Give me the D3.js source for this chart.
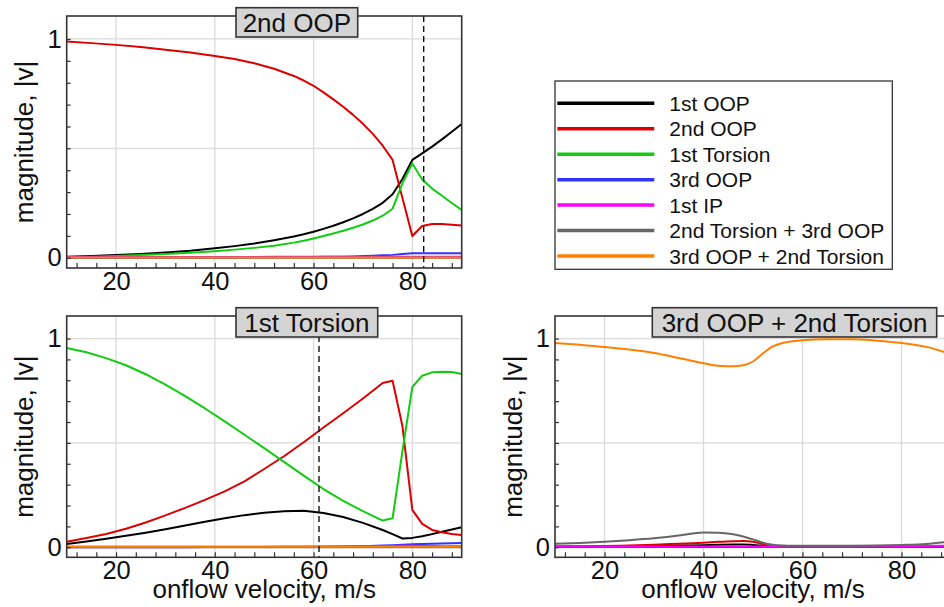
<!DOCTYPE html>
<html>
<head>
<meta charset="utf-8">
<script src="https://cdn.jsdelivr.net/npm/d3@7"></script>
<style>
  html, body { margin: 0; padding: 0; background: #fff; }
  svg { display: block; font-family: "Liberation Sans", Arial, Helvetica, sans-serif; }
</style>
</head>
<body>
<svg id="chart" width="944" height="607"></svg>
<script>
// Mode names and their line colours (legend order = drawing order)
const modeNames = ["1st OOP", "2nd OOP", "1st Torsion", "3rd OOP", "1st IP",
                   "2nd Torsion + 3rd OOP", "3rd OOP + 2nd Torsion"];
const modeColors = ["#000000", "#dd0000", "#11cc11", "#3333ff", "#ff00ff", "#666666", "#ff8000"];

// Axis ticks
const xLabelTicks = [20, 40, 60, 80];
const xGridTicks = [20, 40, 60, 80];
const xMinorTicks = d3.range(12, 90, 4);
const yLabelTicks = [0, 1];
const yGridTicks = [0, 0.5, 1];
const yMinorTicks = d3.range(0, 11).map(i => i / 10);

// ---- Panel "2nd OOP": eigenvector magnitudes vs onflow velocity ----
const velocityA = [10, 15, 20, 25, 30, 35, 40, 44, 48, 52, 56, 58, 60, 62, 64, 66, 68, 70, 72, 74, 76, 78, 80, 82, 84, 86, 88, 90];
const oop1A = [0.005, 0.008, 0.012, 0.017, 0.024, 0.032, 0.043, 0.053, 0.065, 0.080, 0.097, 0.107, 0.119, 0.132, 0.146, 0.162, 0.180, 0.200, 0.223, 0.251, 0.290, 0.360, 0.447, 0.477, 0.508, 0.541, 0.576, 0.611];
const oop2A = [0.988, 0.981, 0.973, 0.963, 0.951, 0.938, 0.922, 0.908, 0.889, 0.864, 0.831, 0.810, 0.786, 0.756, 0.724, 0.690, 0.653, 0.612, 0.566, 0.512, 0.447, 0.273, 0.099, 0.145, 0.154, 0.154, 0.151, 0.147];
const tor1A = [0.002, 0.005, 0.008, 0.012, 0.017, 0.023, 0.030, 0.037, 0.045, 0.055, 0.069, 0.078, 0.088, 0.099, 0.111, 0.123, 0.137, 0.152, 0.170, 0.192, 0.224, 0.340, 0.431, 0.358, 0.316, 0.283, 0.250, 0.218];
const oop3A = [0, 0, 0, 0, 0.001, 0.001, 0.001, 0.001, 0.002, 0.002, 0.003, 0.003, 0.003, 0.004, 0.004, 0.005, 0.006, 0.008, 0.009, 0.011, 0.013, 0.017, 0.020, 0.021, 0.021, 0.021, 0.021, 0.021];
const ip1A = [0.003, 0.003, 0.003, 0.003, 0.003, 0.003, 0.003, 0.003, 0.003, 0.004, 0.004, 0.004, 0.004, 0.004, 0.004, 0.005, 0.005, 0.005, 0.005, 0.005, 0.005, 0.005, 0.005, 0.005, 0.005, 0.005, 0.005, 0.005];
const tor2oop3A = [0, 0, 0, 0, 0, 0, 0, 0, 0, 0, 0, 0, 0, 0, 0, 0, 0, 0, 0, 0, 0, 0, 0, 0, 0, 0, 0, 0];
const oop3tor2A = [0.001, 0.001, 0.001, 0.001, 0.001, 0.001, 0.001, 0.001, 0.001, 0.001, 0.001, 0.001, 0.001, 0.001, 0.001, 0.001, 0.001, 0.001, 0.001, 0.001, 0.001, 0.001, 0.001, 0.001, 0.001, 0.001, 0.001, 0.001];
const markerA = 82.3;

// ---- Panel "1st Torsion" ----
const velocityB = [10, 14, 18, 22, 26, 30, 34, 38, 42, 46, 50, 54, 58, 62, 66, 70, 74, 76, 78, 80, 82, 84, 86, 88, 90];
const oop1B = [0.016, 0.028, 0.041, 0.055, 0.070, 0.086, 0.104, 0.122, 0.139, 0.154, 0.165, 0.173, 0.175, 0.164, 0.145, 0.117, 0.083, 0.063, 0.042, 0.045, 0.053, 0.063, 0.074, 0.085, 0.096];
const oop2B = [0.027, 0.044, 0.064, 0.089, 0.119, 0.153, 0.189, 0.227, 0.268, 0.316, 0.375, 0.436, 0.503, 0.574, 0.642, 0.713, 0.787, 0.798, 0.580, 0.179, 0.112, 0.083, 0.072, 0.064, 0.059];
const tor1B = [0.955, 0.934, 0.906, 0.872, 0.829, 0.779, 0.724, 0.665, 0.603, 0.539, 0.475, 0.409, 0.343, 0.279, 0.222, 0.173, 0.128, 0.139, 0.460, 0.768, 0.822, 0.838, 0.841, 0.840, 0.830];
const oop3B = [0, 0, 0, 0, 0, 0, 0, 0.001, 0.001, 0.001, 0.001, 0.002, 0.002, 0.003, 0.004, 0.005, 0.008, 0.010, 0.012, 0.014, 0.016, 0.017, 0.018, 0.019, 0.020];
const ip1B = [0.003, 0.003, 0.003, 0.003, 0.003, 0.003, 0.003, 0.003, 0.003, 0.003, 0.003, 0.003, 0.003, 0.004, 0.004, 0.005, 0.006, 0.006, 0.007, 0.007, 0.006, 0.006, 0.005, 0.005, 0.005];
const tor2oop3B = [0, 0, 0, 0, 0, 0, 0, 0, 0, 0, 0, 0, 0, 0, 0, 0, 0, 0, 0, 0, 0, 0, 0, 0, 0];
const oop3tor2B = [0.003, 0.003, 0.003, 0.003, 0.003, 0.003, 0.003, 0.003, 0.003, 0.003, 0.003, 0.003, 0.003, 0.003, 0.003, 0.003, 0.003, 0.003, 0.003, 0.003, 0.003, 0.003, 0.003, 0.003, 0.003];
const markerB = 61.1;

// ---- Panel "3rd OOP + 2nd Torsion" ----
const velocityC = [10, 15, 20, 25, 30, 35, 40, 43, 46, 48, 50, 52, 54, 56, 58, 60, 65, 70, 75, 80, 85, 90];
const oop1C = [0.003, 0.003, 0.004, 0.005, 0.006, 0.008, 0.010, 0.012, 0.013, 0.013, 0.011, 0.008, 0.005, 0.003, 0.002, 0.002, 0.002, 0.002, 0.002, 0.002, 0.002, 0.003];
const oop2C = [0.004, 0.005, 0.006, 0.009, 0.012, 0.017, 0.022, 0.026, 0.029, 0.030, 0.026, 0.016, 0.007, 0.004, 0.003, 0.003, 0.003, 0.003, 0.003, 0.003, 0.004, 0.005];
const tor1C = [0.001, 0.001, 0.001, 0.001, 0.001, 0.001, 0.001, 0.001, 0.001, 0.001, 0.001, 0.001, 0.001, 0.001, 0.001, 0.001, 0.001, 0.001, 0.001, 0.001, 0.001, 0.001];
const oop3C = [0.001, 0.001, 0.001, 0.001, 0.001, 0.001, 0.001, 0.001, 0.001, 0.001, 0.001, 0.001, 0.001, 0.001, 0.001, 0.001, 0.001, 0.001, 0.001, 0.001, 0.001, 0.001];
const ip1C = [0.004, 0.004, 0.004, 0.004, 0.004, 0.004, 0.004, 0.004, 0.004, 0.004, 0.004, 0.004, 0.004, 0.004, 0.004, 0.004, 0.004, 0.004, 0.005, 0.005, 0.006, 0.008];
const tor2oop3C = [0.017, 0.021, 0.027, 0.034, 0.043, 0.056, 0.071, 0.070, 0.062, 0.052, 0.038, 0.022, 0.012, 0.008, 0.007, 0.007, 0.007, 0.007, 0.008, 0.011, 0.016, 0.028];
const oop3tor2C = [0.979, 0.970, 0.960, 0.947, 0.931, 0.907, 0.882, 0.870, 0.867, 0.872, 0.890, 0.928, 0.962, 0.979, 0.987, 0.992, 0.997, 0.997, 0.990, 0.979, 0.960, 0.925];

const panels = [
  { title: "2nd OOP", velocity: velocityA,
    series: [oop1A, oop2A, tor1A, oop3A, ip1A, tor2oop3A, oop3tor2A],
    marker: markerA, curve: d3.curveLinear, xAxisTitle: false,
    left: 66.7, right: 461.7, top: 16, bottom: 268, yDomain: [-0.047, 1.105], titleLeft: 236, titleW: 121.7 },
  { title: "1st Torsion", velocity: velocityB,
    series: [oop1B, oop2B, tor1B, oop3B, ip1B, tor2oop3B, oop3tor2B],
    marker: markerB, curve: d3.curveLinear, xAxisTitle: true,
    left: 66.7, right: 461.7, top: 316, bottom: 557.3, yDomain: [-0.048, 1.108], titleLeft: 236, titleW: 141.7 },
  { title: "3rd OOP + 2nd Torsion", velocity: velocityC,
    series: [oop1C, oop2C, tor1C, oop3C, ip1C, tor2oop3C, oop3tor2C],
    marker: null, curve: d3.curveMonotoneX, xAxisTitle: true,
    left: 555, right: 951, top: 316, bottom: 557.3, yDomain: [-0.048, 1.108], titleLeft: 652.3, titleW: 284.4 }
];

const svg = d3.select("#chart");
const frameColor = "#333333";
const gridColor = "#dadada";

panels.forEach((p, pi) => {
  const x = d3.scaleLinear().domain([10, 90]).range([p.left, p.right]);
  const y = d3.scaleLinear().domain(p.yDomain).range([p.bottom, p.top]);
  const g = svg.append("g");
  const clipId = "clip" + pi;

  g.append("clipPath").attr("id", clipId)
    .append("rect")
    .attr("x", p.left).attr("y", p.top)
    .attr("width", p.right - p.left).attr("height", p.bottom - p.top);

  // grid
  g.append("g").selectAll("line").data(xGridTicks).join("line")
    .attr("x1", d => x(d)).attr("x2", d => x(d))
    .attr("y1", p.top).attr("y2", p.bottom)
    .attr("stroke", gridColor).attr("stroke-width", 1.3);
  g.append("g").selectAll("line").data(yGridTicks).join("line")
    .attr("x1", p.left).attr("x2", p.right)
    .attr("y1", d => y(d)).attr("y2", d => y(d))
    .attr("stroke", gridColor).attr("stroke-width", 1.3);

  // mode curves
  const line = d3.line()
    .x((d, i) => x(p.velocity[i]))
    .y(d => y(d))
    .curve(p.curve);
  const lines = g.append("g").attr("clip-path", `url(#${clipId})`);
  p.series.forEach((vals, si) => {
    lines.append("path")
      .datum(vals)
      .attr("d", line)
      .attr("fill", "none")
      .attr("stroke", modeColors[si])
      .attr("stroke-width", 2)
      .attr("stroke-linejoin", "round");
  });

  // dashed velocity marker
  if (p.marker !== null) {
    g.append("line")
      .attr("x1", x(p.marker)).attr("x2", x(p.marker))
      .attr("y1", p.top).attr("y2", p.bottom)
      .attr("stroke", "#111").attr("stroke-width", 1.4)
      .attr("stroke-dasharray", "6,4");
  }

  // inward minor ticks (bottom and left)
  const xMinor = g.append("g").attr("transform", `translate(0,${p.bottom})`)
    .call(d3.axisBottom(x).tickValues(xMinorTicks).tickSize(-5).tickFormat(""));
  xMinor.select(".domain").remove();
  xMinor.selectAll("line").attr("stroke", frameColor).attr("stroke-width", 1.2);

  const yMinor = g.append("g").attr("transform", `translate(${p.left},0)`)
    .call(d3.axisLeft(y).tickValues(yMinorTicks).tickSize(-4).tickFormat(""));
  yMinor.select(".domain").remove();
  yMinor.selectAll("line").attr("stroke", frameColor).attr("stroke-width", 1.2);

  // tick labels
  const xLab = g.append("g").attr("transform", `translate(0,${p.bottom})`)
    .call(d3.axisBottom(x).tickValues(xLabelTicks).tickSize(0).tickPadding(4).tickFormat(d3.format("d")));
  xLab.select(".domain").remove();
  xLab.selectAll("text").attr("font-size", 25.5).attr("fill", "#111")
    .attr("font-family", "Liberation Sans, Arial, sans-serif");

  const yLab = g.append("g").attr("transform", `translate(${p.left},0)`)
    .call(d3.axisLeft(y).tickValues(yLabelTicks).tickSize(0).tickPadding(5).tickFormat(d3.format("d")));
  yLab.select(".domain").remove();
  yLab.selectAll("text").attr("font-size", 25.5).attr("fill", "#111")
    .attr("font-family", "Liberation Sans, Arial, sans-serif");

  // frame
  g.append("rect")
    .attr("x", p.left).attr("y", p.top)
    .attr("width", p.right - p.left).attr("height", p.bottom - p.top)
    .attr("fill", "none").attr("stroke", frameColor).attr("stroke-width", 1.6);

  // axis titles
  g.append("text")
    .attr("transform", `translate(${p.left - 33.4},${(p.top + p.bottom) / 2}) rotate(-90)`)
    .attr("text-anchor", "middle")
    .attr("font-size", 26).attr("fill", "#111")
    .text("magnitude, |v|");

  if (p.xAxisTitle) {
    g.append("text")
      .attr("x", (p.left + p.right) / 2).attr("y", p.bottom + 40.5)
      .attr("text-anchor", "middle")
      .attr("font-size", 26).attr("fill", "#111")
      .text("onflow velocity, m/s");
  }

  // panel title box
  const tg = g.append("g");
  const boxTop = p.top - 8.3;
  const boxH = 29.3;
  tg.append("rect")
    .attr("x", p.titleLeft).attr("y", boxTop)
    .attr("width", p.titleW).attr("height", boxH)
    .attr("fill", "#d4d4d4").attr("stroke", frameColor).attr("stroke-width", 1.6);
  tg.append("text")
    .attr("x", p.titleLeft + p.titleW / 2)
    .attr("y", boxTop + boxH / 2 + 9.3)
    .attr("text-anchor", "middle")
    .attr("font-size", 26).attr("fill", "#111")
    .text(p.title);
});

// legend
const legendLeft = 555, legendTop = 81, legendW = 337.3, legendH = 188.3;
const lg = svg.append("g");
lg.append("rect")
  .attr("x", legendLeft).attr("y", legendTop)
  .attr("width", legendW).attr("height", legendH)
  .attr("fill", "#fff").attr("stroke", frameColor).attr("stroke-width", 1.3);
const rowY = d3.scalePoint().domain(modeNames).range([103.3, 256]);
modeNames.forEach((name, i) => {
  lg.append("line")
    .attr("x1", 557.3).attr("x2", 654.3)
    .attr("y1", rowY(name)).attr("y2", rowY(name))
    .attr("stroke", modeColors[i]).attr("stroke-width", 3.5);
  lg.append("text")
    .attr("x", 669.3).attr("y", rowY(name) + 7.5)
    .attr("font-size", 21).attr("fill", "#111")
    .text(name);
});
</script>
</body>
</html>
